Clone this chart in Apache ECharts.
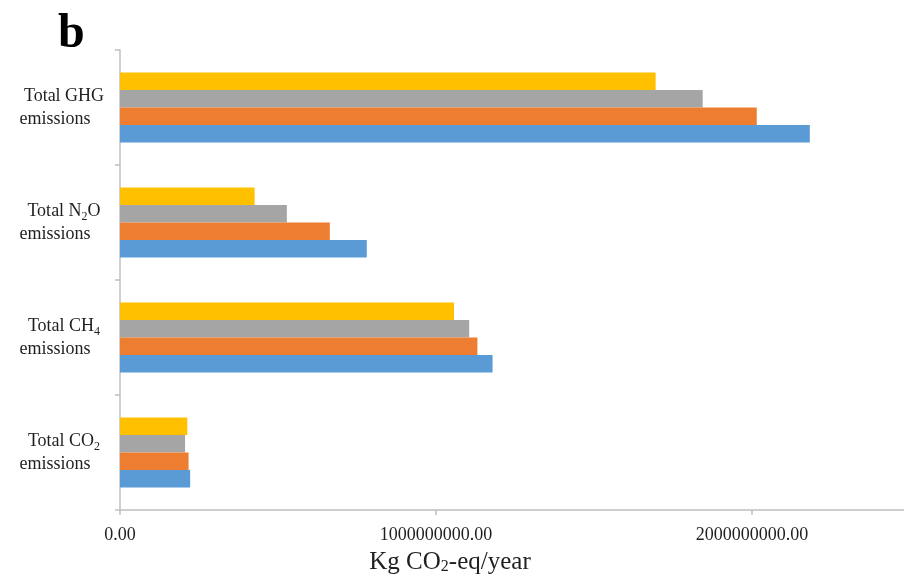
<!DOCTYPE html>
<html>
<head>
<meta charset="utf-8">
<script src="https://cdn.jsdelivr.net/npm/echarts@6/dist/echarts.min.js"></script>
<style>html,body{margin:0;padding:0;background:#fff}#c{width:904px;height:576px}</style>
</head>
<body>
<div id="c"></div>
<script>
// Categories (bottom to top), with subscript digit marked
var categories = ['Total CO2 emissions', 'Total CH4 emissions', 'Total N2O emissions', 'Total GHG emissions'];
var categoryLines = [['Total CO', '2', '', 'emissions'], ['Total CH', '4', '', 'emissions'], ['Total N', '2', 'O', 'emissions'], ['Total GHG', '', '', 'emissions']];
// Series values (kg CO2-eq/year), one per category, bottom to top
var series1 = [222000000, 1179000000, 781000000, 2183000000];   // blue (lowest bar in each group)
var series2 = [217000000, 1131000000, 664000000, 2015000000];   // orange
var series3 = [206000000, 1105000000, 528000000, 1844000000];   // gray
var series4 = [213000000, 1057000000, 426000000, 1695000000];   // yellow (top bar in each group)
var seriesNames = ['Series 1', 'Series 2', 'Series 3', 'Series 4'];
var xTicks = [0, 1000000000, 2000000000];
var xMax = 2481000000;
var xTitle = 'Kg CO{sub|2}-eq/year';

var colors = ['#5B9BD5', '#ED7D31', '#A5A5A5', '#FFC000'];
var FONT = '"Liberation Serif", "Times New Roman", serif';
var TXT = '#1f1f1f';
var AX = '#bfbfbf';

var chart = echarts.init(document.getElementById('c'), null, {renderer: 'canvas'});
var data = [series1, series2, series3, series4];
// ECharts places the first series at the top of a horizontal group, so add them top-first
var order = [3, 2, 1, 0];

chart.setOption({
  animation: false,
  backgroundColor: '#ffffff',
  title: {
    text: 'b', left: 53, top: 6,
    textStyle: {fontFamily: FONT, fontWeight: 'bold', fontSize: 48, color: '#000'}
  },
  grid: {left: 120, right: 0, top: 50, bottom: 66, containLabel: false, outerBoundsMode: 'none'},
  xAxis: {
    type: 'value', min: 0, max: xMax,
    name: xTitle, nameLocation: 'middle', nameGap: 40,
    nameTextStyle: {
      fontFamily: FONT, fontSize: 25, color: TXT, padding: [0, 124, 0, 0],
      rich: {sub: {fontFamily: FONT, fontSize: 16, color: TXT, verticalAlign: 'bottom', lineHeight: 12}}
    },
    axisLine: {show: true, lineStyle: {color: AX, width: 1.5}},
    axisTick: {show: true, length: 5, customValues: xTicks, lineStyle: {color: AX, width: 1.5}},
    axisLabel: {
      customValues: xTicks, margin: 16,
      fontFamily: FONT, fontSize: 18, color: TXT,
      formatter: function (v) { return v.toFixed(2); }
    },
    splitLine: {show: false}
  },
  yAxis: {
    type: 'category', data: categories,
    axisLine: {show: true, lineStyle: {color: AX, width: 1.5}},
    axisTick: {show: true, length: 5, lineStyle: {color: AX, width: 1.5}},
    axisLabel: {
      margin: 56, align: 'center',
      fontFamily: FONT, fontSize: 18, color: TXT, lineHeight: 23,
      formatter: function (v) {
        var p = categoryLines[categories.indexOf(v)];
        var line1 = '{n|' + p[0] + '}' + (p[1] ? '{sub|' + p[1] + '}' : '') + (p[2] ? '{n|' + p[2] + '}' : '');
        return line1 + '\n{em|' + p[3] + '}';
      },
      rich: {
        n: {fontFamily: FONT, fontSize: 18, color: TXT, lineHeight: 23},
        sub: {fontFamily: FONT, fontSize: 12, color: TXT, lineHeight: 9, verticalAlign: 'bottom'},
        em: {fontFamily: FONT, fontSize: 18, color: TXT, lineHeight: 23, padding: [0, 18, 0, 0]}
      }
    }
  },
  series: order.map(function (i) {
    return {
      name: seriesNames[i], type: 'bar', data: data[i],
      barGap: '0%', barCategoryGap: '39%',
      itemStyle: {color: colors[i]}
    };
  })
});
</script>
</body>
</html>
